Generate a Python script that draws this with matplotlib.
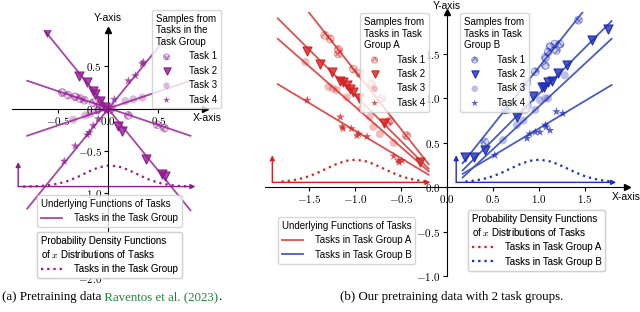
import matplotlib

matplotlib.use("Agg")
import matplotlib.pyplot as plt
from matplotlib.colors import to_rgb
from matplotlib.lines import Line2D
from matplotlib.ticker import FuncFormatter

TASKS = ["Task 1", "Task 2", "Task 3", "Task 4"]

# ---------------- (a) one task group ----------------
A_LINE_X = [[-0.81, 0.82], [-0.62, 0.82], [-0.81, 0.82], [-0.81, 0.62]]
A_LINE_Y = [[0.33, -0.32], [0.90, -1.20], [-0.32, 0.33], [-1.18, 0.90]]

A_PTS_X = [
    [-0.46, -0.40, -0.33, -0.28, -0.24, -0.15, -0.08, 0.02, 0.20, 0.49, 0.56],
    [-0.61, -0.29, -0.21, -0.15, -0.13, -0.08, -0.03, 0.10, 0.14, 0.38, 0.54, 0.57],
    [-0.35, -0.23, -0.18, -0.11, -0.03, 0.04, 0.17, 0.25, 0.34],
    [-0.44, -0.33, -0.21, -0.19, -0.15, -0.10, -0.02, 0.06, 0.20, 0.27, 0.34, 0.35],
]
A_PTS_Y = [
    [0.19, 0.16, 0.14, 0.12, 0.10, 0.07, 0.04, -0.01, -0.08, -0.19, -0.23],
    [0.91, 0.39, 0.31, 0.21, 0.17, 0.09, 0.02, -0.20, -0.26, -0.59, -0.77, -0.79],
    [-0.13, -0.08, -0.06, -0.02, 0.00, 0.02, 0.09, 0.11, 0.13],
    [-0.62, -0.44, -0.31, -0.28, -0.20, -0.12, -0.03, 0.11, 0.33, 0.39, 0.53, 0.55],
]

A_PDF_X = [-0.85, -0.8, -0.7, -0.6, -0.5, -0.4, -0.3, -0.2, -0.1, 0.0,
           0.1, 0.2, 0.3, 0.4, 0.5, 0.6, 0.7, 0.8, 0.85]
A_PDF_Y = [-0.919, -0.918, -0.915, -0.905, -0.886, -0.852, -0.803, -0.745, -0.695, -0.671,
           -0.681, -0.723, -0.780, -0.834, -0.875, -0.899, -0.912, -0.917, -0.919]
# pdf frame: corner x, corner y, top y, right x
A_PDF_FRAME = [-0.90, -0.92, -0.63, 0.87]

# ---------------- (b) two task groups ----------------
RA_LINE_X = [[-1.84, -0.20], [-1.84, -0.20], [-1.84, -0.20], [-1.84, -0.20]]
RA_LINE_Y = [[2.41, 0.26], [1.90, 0.21], [1.67, 0.18], [1.16, 0.14]]
BB_LINE_X = [[0.17, 1.79], [0.17, 1.79], [0.17, 1.79], [0.17, 1.79]]
BB_LINE_Y = [[0.27, 2.38], [0.19, 1.87], [0.11, 1.67], [0.15, 1.15]]

RA_PTS_X = [
    [-1.33, -1.27, -1.18, -1.18, -1.02, -0.95, -0.82, -0.71, -0.64, -0.62, -0.44],
    [-1.52, -1.38, -1.25, -1.16, -1.13, -1.09, -1.05, -1.02, -0.96, -0.69, -0.29],
    [-1.54, -1.29, -1.24, -1.20, -1.09, -0.93, -0.84, -0.80, -0.73, -0.58],
    [-1.52, -1.16, -1.14, -1.13, -1.04, -0.98, -0.96, -0.87, -0.58, -0.53, -0.52, -0.49],
]
RA_PTS_Y = [
    [1.71, 1.67, 1.50, 1.55, 1.33, 1.28, 1.16, 1.00, 0.73, 0.75, 0.58],
    [1.53, 1.39, 1.30, 1.20, 1.18, 1.15, 1.11, 1.07, 1.00, 0.72, 0.28],
    [1.41, 1.13, 1.11, 1.09, 1.01, 0.88, 0.79, 0.68, 0.60, 0.50],
    [0.98, 0.79, 0.68, 0.66, 0.66, 0.58, 0.60, 0.57, 0.35, 0.30, 0.28, 0.30],
]
BB_PTS_X = [
    [0.41, 0.63, 0.65, 0.83, 0.87, 0.96, 1.07, 1.07, 1.10, 1.12, 1.17, 1.19, 1.23, 1.43],
    [0.20, 0.29, 0.41, 0.76, 0.94, 1.03, 1.05, 1.10, 1.14, 1.21, 1.30, 1.58, 1.75],
    [0.61, 0.76, 0.83, 0.85, 0.88, 0.96, 1.01, 1.07, 1.10, 1.28],
    [0.52, 0.87, 0.90, 0.96, 1.01, 1.07, 1.08, 1.12, 1.19, 1.26],
]
BB_PTS_Y = [
    [0.51, 0.87, 0.87, 1.13, 1.18, 1.30, 1.37, 1.46, 1.52, 1.58, 1.61, 1.54, 1.61, 1.88],
    [0.34, 0.34, 0.42, 0.79, 1.03, 1.13, 1.13, 1.18, 1.20, 1.28, 1.37, 1.66, 1.78],
    [0.53, 0.70, 0.75, 0.87, 0.92, 0.87, 0.98, 1.00, 1.00, 1.26],
    [0.36, 0.55, 0.60, 0.62, 0.62, 0.70, 0.68, 0.64, 0.85, 0.83],
]

RA_PDF_X = [-1.8, -1.7, -1.6, -1.5, -1.4, -1.3, -1.2, -1.1, -1.0,
            -0.9, -0.8, -0.7, -0.6, -0.5, -0.4, -0.3, -0.2]
BB_PDF_X = [0.2, 0.3, 0.4, 0.5, 0.6, 0.7, 0.8, 0.9, 1.0,
            1.1, 1.2, 1.3, 1.4, 1.5, 1.6, 1.7, 1.8]
B_PDF_Y = [0.064, 0.075, 0.094, 0.124, 0.166, 0.215, 0.262, 0.297, 0.310,
           0.297, 0.262, 0.215, 0.166, 0.124, 0.094, 0.075, 0.064]
RA_PDF_FRAME = [-1.90, 0.055, 0.36, -0.18]
BB_PDF_FRAME = [0.10, 0.055, 0.36, 1.84]

PURPLE_LINE, PURPLE = "#a845a8", "#8e1c8e"
RED_LINE, RED = "#e05050", "#d42222"
BLUE_LINE, BLUE = "#4a5cc4", "#1f2eb4"
CITE_GREEN = "#22843c"

SANS = "Liberation Sans"
SERIF = "Liberation Serif"
DOTS = (0, (1, 1.8))


def setup_axes(ax, xlim, ylim, xticks, yticks):
    ax.set_xlim(xlim)
    ax.set_ylim(ylim)
    ax.patch.set_visible(False)
    for s in ("top", "right"):
        ax.spines[s].set_visible(False)
    ax.spines["left"].set_position(("data", 0))
    ax.spines["bottom"].set_position(("data", 0))
    for s in ("left", "bottom"):
        ax.spines[s].set_linewidth(0.8)
    ax.set_xticks(xticks)
    ax.set_yticks(yticks)
    fmt = FuncFormatter(lambda v, p: f"${v + 0.0:.1f}$")
    ax.xaxis.set_major_formatter(fmt)
    ax.yaxis.set_major_formatter(fmt)
    ax.tick_params(labelsize=8, length=3, width=0.8, pad=1.5)
    ax.plot(1, 0, ">k", ms=4, transform=ax.get_yaxis_transform(), clip_on=False)
    ax.plot(0, 1, "^k", ms=4, transform=ax.get_xaxis_transform(), clip_on=False)


def draw_group(ax, lx, ly, px, py, line_color, color):
    for x, y in zip(lx, ly):
        ax.plot(x, y, color=line_color, lw=1.3, zorder=2)
    rgb = to_rgb(color)
    h = []
    h.append(ax.scatter(px[0], py[0], marker="o", s=32, facecolors=(*rgb, 0.2),
                        edgecolors=(*rgb, 0.5), hatch="xxxx", linewidths=0.5, zorder=3))
    h.append(ax.scatter(px[1], py[1], marker="v", s=42, facecolors=(*rgb, 0.8),
                        edgecolors=color, linewidths=0.8, zorder=3))
    h.append(ax.scatter(px[2], py[2], marker="o", s=34, color=color, alpha=0.3,
                        edgecolors="none", zorder=3))
    h.append(ax.scatter(px[3], py[3], marker="*", s=42, color=color, alpha=0.75,
                        edgecolors="none", zorder=3))
    return h


def draw_pdf(ax, x, y, frame, color):
    cx, cy, top, right = frame
    kw = dict(arrowstyle="-|>", color=color, lw=1.0, mutation_scale=7, shrinkA=0, shrinkB=0)
    ax.annotate("", xy=(cx, top), xytext=(cx, cy), arrowprops=kw, zorder=2)
    ax.annotate("", xy=(right, cy), xytext=(cx, cy), arrowprops=kw, zorder=2)
    ax.plot(x, y, ls=DOTS, color=color, lw=1.6, zorder=2)


def add_legend(ax, handles, labels, title, anchor, fig):
    leg = ax.legend(handles, labels, title=title, loc="upper left", bbox_to_anchor=anchor,
                    bbox_transform=fig.transFigure, borderaxespad=0, alignment="left",
                    prop={"family": SANS, "size": 7}, title_fontproperties={"family": SANS, "size": 7},
                    handletextpad=1.2, labelspacing=0.45, borderpad=0.4, handlelength=2.2,
                    markerscale=0.8)
    leg.get_title().set_multialignment("left")
    ax.add_artist(leg)
    return leg


def main():
    plt.rcParams.update({"mathtext.fontset": "cm", "font.family": SANS})
    fig = plt.figure(figsize=(6.4, 3.12), dpi=100)

    # ----- panel (a)
    ax_a = fig.add_axes([0.019, 0.109, 0.302, 0.795])
    setup_axes(ax_a, (-0.96, 0.97), (-2.0, 0.93), [-0.5, 0.0, 0.5],
               [-2.0, -1.5, -1.0, -0.5, 0.0, 0.5])
    h_a = draw_group(ax_a, A_LINE_X, A_LINE_Y, A_PTS_X, A_PTS_Y, PURPLE_LINE, PURPLE)
    draw_pdf(ax_a, A_PDF_X, A_PDF_Y, A_PDF_FRAME, PURPLE)
    ax_a.text(0.0, 1.07, "Y-axis", ha="center", va="center", fontsize=7.5, clip_on=False)
    ax_a.text(0.99, -0.11, "X-axis", ha="center", va="center", fontsize=7.5, clip_on=False)

    add_legend(ax_a, h_a, TASKS, "Samples from\nTasks in the\nTask Group", (0.2375, 0.968), fig)
    add_legend(ax_a, [Line2D([], [], color=PURPLE_LINE, lw=1.3)], ["Tasks in the Task Group"],
               "Underlying Functions of Tasks", (0.058, 0.375), fig)
    add_legend(ax_a, [Line2D([], [], color=PURPLE, lw=1.6, ls=DOTS)], ["Tasks in the Task Group"],
               "Probability Density Functions\nof $x$ Distributions of Tasks", (0.058, 0.256), fig)

    # ----- panel (b)
    ax_b = fig.add_axes([0.414, 0.115, 0.566, 0.846])
    setup_axes(ax_b, (-1.98, 1.96), (-1.0, 1.97), [-1.5, -1.0, -0.5, 0.0, 0.5, 1.0, 1.5],
               [-1.0, -0.5, 0.0, 0.5, 1.0, 1.5])
    h_r = draw_group(ax_b, RA_LINE_X, RA_LINE_Y, RA_PTS_X, RA_PTS_Y, RED_LINE, RED)
    h_b = draw_group(ax_b, BB_LINE_X, BB_LINE_Y, BB_PTS_X, BB_PTS_Y, BLUE_LINE, BLUE)
    draw_pdf(ax_b, RA_PDF_X, B_PDF_Y, RA_PDF_FRAME, RED)
    draw_pdf(ax_b, BB_PDF_X, B_PDF_Y, BB_PDF_FRAME, BLUE)
    ax_b.text(0.0, 2.04, "Y-axis", ha="center", va="center", fontsize=7.5, clip_on=False)
    ax_b.text(1.95, -0.11, "X-axis", ha="center", va="center", fontsize=7.5, clip_on=False)

    add_legend(ax_b, h_r, TASKS, "Samples from\nTasks in Task\nGroup A", (0.5625, 0.958), fig)
    add_legend(ax_b, h_b, TASKS, "Samples from\nTasks in Task\nGroup B", (0.719, 0.958), fig)
    add_legend(ax_b, [Line2D([], [], color=RED_LINE, lw=1.3), Line2D([], [], color=BLUE_LINE, lw=1.3)],
               ["Tasks in Task Group A", "Tasks in Task Group B"],
               "Underlying Functions of Tasks", (0.434, 0.304), fig)
    add_legend(ax_b, [Line2D([], [], color=RED, lw=1.6, ls=DOTS),
                      Line2D([], [], color=BLUE, lw=1.6, ls=DOTS)],
               ["Tasks in Task Group A", "Tasks in Task Group B"],
               "Probability Density Functions\nof $x$ Distributions of Tasks", (0.731, 0.327), fig)

    # ----- captions
    cap = dict(fontfamily=SERIF, fontsize=9.3)
    t1 = fig.text(0.003, 0.038, "(a) Pretraining data", va="baseline", **cap)
    ann = ax_a.annotate(" Raventos et al. (2023)", xy=(1, 0), xycoords=t1, va="bottom",
                        color=CITE_GREEN, annotation_clip=False, **cap)
    ax_a.annotate(".", xy=(1, 0), xycoords=ann, va="bottom", annotation_clip=False, **cap)
    fig.text(452 / 640, 0.038, "(b) Our pretraining data with 2 task groups.", ha="center",
             va="baseline", **cap)

    fig.savefig("out.png", dpi=100, facecolor="white")
    plt.close(fig)


if __name__ == "__main__":
    main()
